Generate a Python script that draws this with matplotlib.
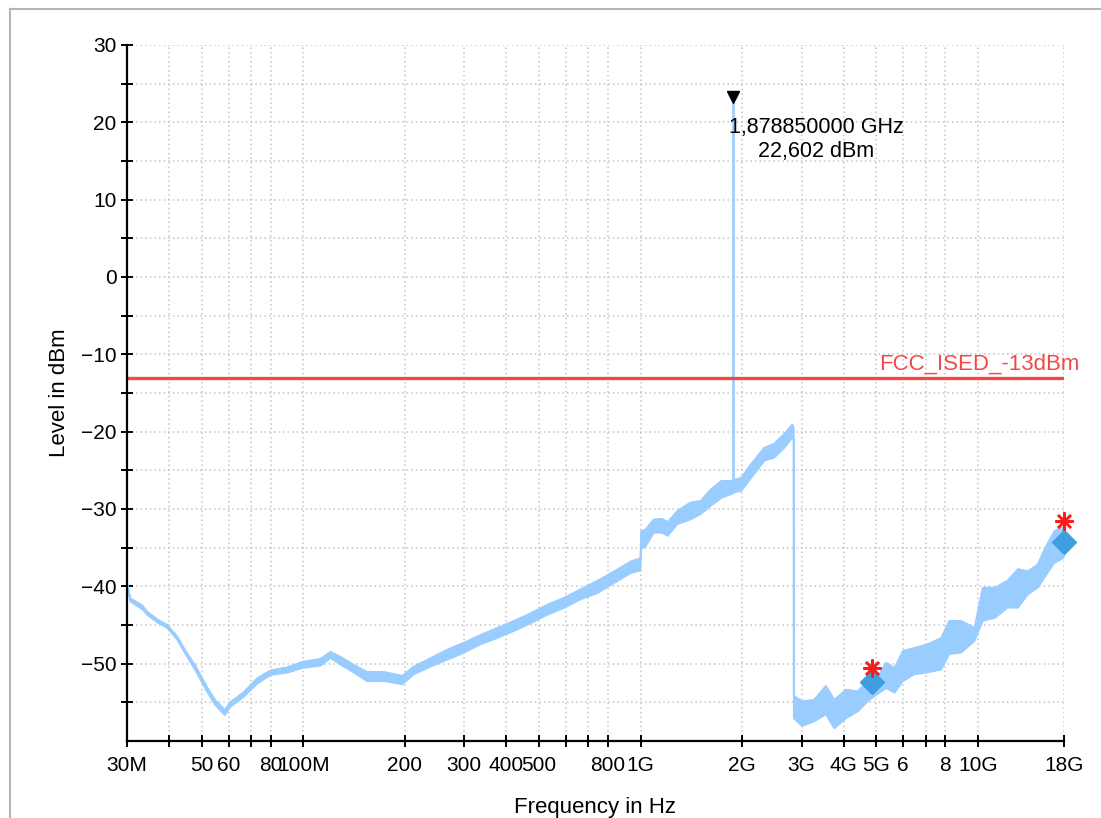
import matplotlib
matplotlib.use("Agg")
import numpy as np
import matplotlib.pyplot as plt
from matplotlib.lines import Line2D
from matplotlib.ticker import FixedLocator, NullFormatter
from matplotlib.transforms import ScaledTranslation

plt.rcParams['font.family'] = ['Liberation Sans', 'DejaVu Sans']

# trace envelope (MHz, dBm)
freq_mhz = [30, 30.6, 33.2, 34.3, 36.8, 39.3, 42.1, 44.6, 47.7, 51.7, 54.7, 58.3, 60.6,
            66.4, 72.8, 79.7, 89.3, 99, 112, 120, 129, 141, 154, 173, 196, 212, 238,
            267, 299, 335, 375, 420, 471, 528, 592, 663, 743, 832, 933, 995, 1000,
            1030, 1090, 1150, 1200, 1280, 1400, 1500, 1610, 1730, 1850, 1878.5,
            1878.85, 1879.2, 1980, 2120, 2320, 2480, 2660, 2810, 2834, 2836, 3000,
            3260, 3530, 3740, 4050, 4390, 4700, 5000, 5330, 5640, 5970, 6460, 7000,
            7760, 8200, 8890, 9740, 10300, 11200, 12200, 13100, 14000, 15000, 15800,
            16800, 17700, 18000]
level_hi = [-39.8, -41.5, -42.4, -43.2, -44.2, -44.9, -46.4, -48.3, -50.2, -53.0, -54.7,
            -55.9, -54.9, -53.6, -51.8, -50.8, -50.4, -49.7, -49.3, -48.4, -49.1, -50.1,
            -51.0, -51.0, -51.5, -50.3, -49.2, -48.1, -47.2, -46.2, -45.3, -44.4, -43.4,
            -42.3, -41.4, -40.3, -39.2, -38.0, -36.7, -36.3, -32.8, -32.6, -31.3, -31.2,
            -31.6, -30.2, -29.1, -28.9, -27.4, -26.3, -26.3, -26.2, 22.6, -26.2, -25.9,
            -24.1, -22.0, -21.5, -20.2, -19.0, -19.5, -54.1, -54.8, -54.6, -52.8, -54.6,
            -53.3, -53.5, -52.2, -51.8, -49.8, -50.5, -48.3, -47.9, -47.5, -46.6, -44.4,
            -44.4, -45.3, -40.1, -40.1, -39.2, -37.7, -38.0, -37.1, -34.9, -32.8, -32.3,
            -32.5]
level_lo = [-40.2, -41.9, -42.9, -43.6, -44.6, -45.3, -46.8, -48.7, -50.8, -53.6, -55.3,
            -56.6, -55.5, -54.2, -52.5, -51.4, -51.1, -50.5, -50.2, -49.2, -50.1, -51.1,
            -52.2, -52.2, -52.6, -51.3, -50.3, -49.4, -48.5, -47.4, -46.6, -45.7, -44.7,
            -43.6, -42.7, -41.6, -40.8, -39.5, -38.2, -37.9, -35.1, -34.8, -33.0, -33.0,
            -33.4, -31.9, -31.3, -30.6, -29.5, -28.5, -28.0, -27.9, -27.8, -27.8, -27.6,
            -25.9, -23.7, -23.3, -22.0, -20.7, -21.0, -57.0, -58.0, -57.4, -56.5, -58.3,
            -57.0, -56.1, -54.8, -53.9, -53.1, -53.7, -52.2, -51.3, -51.1, -50.7, -48.7,
            -48.5, -47.0, -44.4, -44.0, -42.7, -42.7, -41.0, -40.1, -38.6, -36.9, -36.4,
            -36.0]

peak_mhz = 1878.85
peak_dbm = 22.602
limit_dbm = -13
diamond_mhz = [4850, 18000]
diamond_dbm = [-52.4, -34.3]
star_mhz = [4850, 18000]
star_dbm = [-50.5, -31.6]

tick_mhz = [30, 40, 50, 60, 70, 80, 100, 200, 300, 400, 500, 600, 700, 800, 1000,
            2000, 3000, 4000, 5000, 6000, 7000, 8000, 10000, 18000]
tick_txt = ['30M', '', '50', '60', '', '80', '100M', '200', '300', '400', '500', '', '',
            '800', '1G', '2G', '3G', '4G', '5G', '6', '', '8', '10G', '18G']

f = np.array(freq_mhz) * 1e6

fig = plt.figure(figsize=(11.01, 8.18), dpi=100)
ax = fig.add_axes([127/1101, 1-741/818, (1064-127)/1101, (741-45)/818])

trace_c = '#99ccff'
ax.fill_between(f, level_lo, level_hi, color=trace_c, lw=1.3, edgecolor=trace_c, zorder=3)
ax.axhline(limit_dbm, color='#f24848', lw=2.4, zorder=4)
ax.annotate('FCC_ISED_-13dBm', xy=(0, limit_dbm), xycoords=('figure pixels', 'data'),
            xytext=(879, 3), textcoords='offset pixels', color='#f24848', fontsize=16,
            ha='left', va='bottom', annotation_clip=False, zorder=5)

ax.plot(np.array(diamond_mhz) * 1e6, diamond_dbm, ls='none', marker='D', ms=12,
        color='#3f9de0', zorder=6, clip_on=False)
ax.plot(np.array(star_mhz) * 1e6, star_dbm, ls='none', marker=(8, 2, 0), ms=13,
        mew=1.8, color='#ff1a1a', zorder=7, clip_on=False)

# marker triangle sits on top of the peak
ax.plot([peak_mhz * 1e6], [peak_dbm], ls='none', marker='v', ms=9, color='black',
        zorder=8, clip_on=False,
        transform=ax.transData + ScaledTranslation(0, 5/100, fig.dpi_scale_trans))
ax.annotate('1,878850000 GHz\n22,602 dBm', xy=(peak_mhz * 1e6, peak_dbm),
            xytext=(83, -15), textcoords='offset pixels', ha='center', va='top',
            multialignment='center', fontsize=15.5, linespacing=1.15, zorder=8)

ax.set_xscale('log')
ax.set_xlim(30e6, 18e9)
ax.set_ylim(-60, 30)
ax.xaxis.set_major_locator(FixedLocator(np.array(tick_mhz) * 1e6))
ax.xaxis.set_minor_locator(FixedLocator([]))
ax.set_xticklabels(tick_txt)
ax.xaxis.set_minor_formatter(NullFormatter())
ax.set_yticks(np.arange(-50, 31, 10))
ax.set_yticks(np.arange(-55, 30, 10), minor=True)

for s in ['top', 'right']:
    ax.spines[s].set_visible(False)
for s in ['left', 'bottom']:
    ax.spines[s].set_linewidth(1.6)
    ax.spines[s].set_zorder(9)
ax.tick_params(which='both', direction='inout', length=9, width=1.4, labelsize=15, pad=3)
ax.tick_params(axis='x', which='both', pad=6)
ax.grid(True, which='both', ls=(0, (1, 2)), color='#c4c4c4', lw=1.1, zorder=0)

ax.set_xlabel('Frequency in Hz', fontsize=16, labelpad=16)
ax.set_ylabel('Level in dBm', fontsize=16, labelpad=8)

fig.add_artist(Line2D([10/1101, 10/1101], [0, 1-9/818], color='#b5b5b5', lw=1.5))
fig.add_artist(Line2D([10/1101, 1], [1-9/818, 1-9/818], color='#b5b5b5', lw=1.5))

fig.savefig('out.png', dpi=100)
